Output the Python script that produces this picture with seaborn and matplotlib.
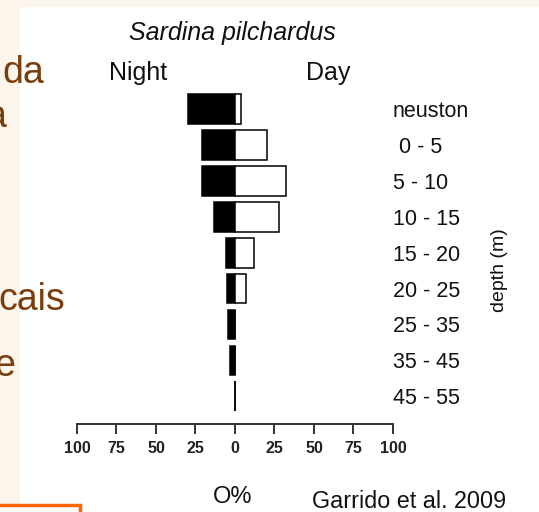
import pandas as pd
import matplotlib.pyplot as plt
import seaborn as sns
from matplotlib.patches import Rectangle

# Datos (Garrido et al. 2009)
depths = ['neuston', ' 0 - 5', '5 - 10', '10 - 15', '15 - 20',
          '20 - 25', '25 - 35', '35 - 45', '45 - 55']
night = [30, 21, 21, 13, 5.5, 5, 4.5, 3, 0.3]
day = [4, 20.5, 32, 28, 12, 7, 0, 0, 0]
x_ticks = [-100, -75, -50, -25, 0, 25, 50, 75, 100]

W, H = 539, 512


def fx(x):
    return x / W


def fy(y):
    return 1 - y / H


sns.set_style('white')
plt.rcParams['font.family'] = ['Liberation Sans', 'DejaVu Sans']

df = pd.DataFrame({'depth': depths,
                   'night': [-v for v in night],
                   'day': day})

fig = plt.figure(figsize=(W / 100, H / 100), dpi=100)
fig.patch.set_facecolor('#FBF5EB')
fig.add_artist(Rectangle((fx(20), 0), 1 - fx(20), fy(7), transform=fig.transFigure,
                         facecolor='white', edgecolor='none', zorder=0))

ax = fig.add_axes([fx(77), fy(424), fx(393) - fx(77), (424 - 91) / H])
ax.set_facecolor('none')

sns.barplot(data=df, x='night', y='depth', orient='h', color='black', saturation=1,
            width=0.83, edgecolor='black', linewidth=1.1, ax=ax)
sns.barplot(data=df, x='day', y='depth', orient='h', color='white', saturation=1,
            width=0.83, edgecolor='black', linewidth=1.1, ax=ax)

ax.set_xlim(-100, 100)
ax.set_ylim(8.77, -0.5)
ax.set_xlabel('')
ax.set_ylabel('')
ax.set_xticks(x_ticks)
ax.set_xticklabels([str(abs(t)) for t in x_ticks], fontsize=11.5, fontweight='bold',
                   family=['Liberation Sans Narrow', 'Liberation Sans'], color='#222')
ax.tick_params(axis='x', bottom=True, length=7, width=1.4, color='#333', pad=5)

ax.set_yticks(range(len(depths)))
ax.set_yticklabels(depths, fontsize=15.5, color='#111', va='center_baseline')
ax.yaxis.tick_right()
ax.tick_params(axis='y', length=0, pad=0)

for side in ['top', 'left', 'right']:
    ax.spines[side].set_visible(False)
ax.spines['bottom'].set_linewidth(1.4)
ax.spines['bottom'].set_color('#333')

# textos de la figura
fig.text(fx(232), fy(40), 'Sardina pilchardus', style='italic', fontsize=18,
         ha='center', va='baseline', color='#111')
fig.text(fx(138), fy(80), 'Night', fontsize=18, ha='center', va='baseline', color='#111')
fig.text(fx(328), fy(80), 'Day', fontsize=18, ha='center', va='baseline', color='#111')
fig.text(fx(500), fy(270), 'depth (m)', fontsize=14, rotation=90,
         ha='center', va='center', color='#111')
fig.text(fx(233), fy(503), 'O%', fontsize=17, ha='center', va='baseline', color='#111')
fig.text(fx(312), fy(508), 'Garrido et al. 2009', fontsize=16.8, ha='left',
         va='baseline', color='#111')

# texto de la diapositiva, cortado a la izquierda
brown = '#7A3E0C'
fig.text(fx(44), fy(83), 'da', fontsize=27, ha='right', va='baseline', color=brown)
fig.text(fx(6), fy(127), 'a', fontsize=27, ha='right', va='baseline', color=brown)
fig.text(fx(65), fy(310), 'cais', fontsize=27, ha='right', va='baseline', color=brown)
fig.text(fx(15), fy(376), 'e', fontsize=27, ha='right', va='baseline', color=brown)

fig.add_artist(Rectangle((fx(-10), fy(540)), fx(90), fy(505) - fy(540),
                         transform=fig.transFigure, facecolor='white',
                         edgecolor='#FF6600', linewidth=2.5, zorder=1))

plt.savefig('out.png', dpi=100)
plt.close()
